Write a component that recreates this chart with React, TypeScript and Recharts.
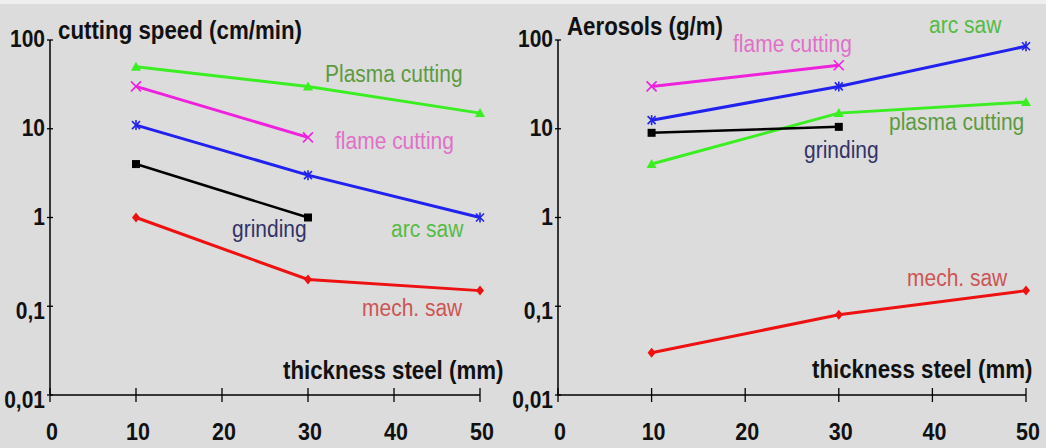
import React from 'react';
import { LineChart, Line, XAxis, YAxis } from 'recharts';

// Steel plate thickness (mm) at which each process was measured
const thickness = [10, 30, 50];

// Cutting speed (cm/min) per process
const speedPlasma = [50, 30, 15];
const speedFlame = [30, 8, null];
const speedArcSaw = [11, 3, 1];
const speedGrinding = [4, 1, null];
const speedMechSaw = [1, 0.2, 0.15];

// Aerosol emission (g/m) per process
const aeroFlame = [30, 52, null];
const aeroArcSaw = [12.5, 30, 85];
const aeroPlasma = [4, 15, 20];
const aeroGrinding = [9, 10.5, null];
const aeroMechSaw = [0.03, 0.08, 0.15];

const xTicks = [0, 10, 20, 30, 40, 50];
const yTicks = [0.01, 0.1, 1, 10, 100];
const yTickLabels = ['0,01', '0,1', '1', '10', '100'];

const C_PLASMA = '#3aee22';
const C_FLAME = '#ee22dd';
const C_ARC = '#2222ee';
const C_GRIND = '#000000';
const C_MECH = '#ee1111';

const FONT = '"Liberation Sans", Arial, sans-serif';
// glyphs in this figure are drawn slightly taller than wide
const STRETCH = 1.15;

const buildRows = (series: Record<string, (number | null)[]>) =>
  thickness.map((t, i) => {
    const row: Record<string, number | null> = { t };
    Object.keys(series).forEach((k) => {
      row[k] = series[k][i];
    });
    return row;
  });

const speedRows = buildRows({
  plasma: speedPlasma,
  flame: speedFlame,
  arc: speedArcSaw,
  grinding: speedGrinding,
  mech: speedMechSaw,
});

const aeroRows = buildRows({
  plasma: aeroPlasma,
  flame: aeroFlame,
  arc: aeroArcSaw,
  grinding: aeroGrinding,
  mech: aeroMechSaw,
});

type MarkKind = 'triangle' | 'cross' | 'star' | 'square' | 'diamond';

const makeDot = (kind: MarkKind, color: string) => (p: any) => {
  const { cx, cy, index } = p;
  const key = `${kind}-${index}`;
  if (cx == null || cy == null || p.value == null || Number.isNaN(cy)) return <g key={key} />;
  switch (kind) {
    case 'triangle':
      return (
        <polygon key={key} points={`${cx},${cy - 5} ${cx - 5},${cy + 4} ${cx + 5},${cy + 4}`} fill={color} />
      );
    case 'cross':
      return (
        <g key={key} stroke={color} strokeWidth={1.6}>
          <line x1={cx - 5} y1={cy - 5} x2={cx + 5} y2={cy + 5} />
          <line x1={cx - 5} y1={cy + 5} x2={cx + 5} y2={cy - 5} />
        </g>
      );
    case 'star':
      return (
        <g key={key} stroke={color} strokeWidth={1.6}>
          <line x1={cx - 4} y1={cy - 4} x2={cx + 4} y2={cy + 4} />
          <line x1={cx - 4} y1={cy + 4} x2={cx + 4} y2={cy - 4} />
          <line x1={cx} y1={cy - 5} x2={cx} y2={cy + 5} />
        </g>
      );
    case 'square':
      return <rect key={key} x={cx - 4} y={cy - 4} width={8} height={8} fill={color} />;
    default:
      return (
        <polygon key={key} points={`${cx},${cy - 5} ${cx + 4},${cy} ${cx},${cy + 5} ${cx - 4},${cy}`} fill={color} />
      );
  }
};

const Y_TICK_SIZE = 3;
const Y_TICK_MARGIN = 2;
const X_TICK_SIZE = 7;
const X_TICK_MARGIN = 40;

// Text stretched vertically about its baseline
const Txt = ({ x, y, size, bold, color, anchor, children }: any) => (
  <text
    transform={`translate(${x},${y}) scale(1,${STRETCH})`}
    x={0}
    y={0}
    textAnchor={anchor || 'start'}
    fontFamily={FONT}
    fontSize={size}
    fontWeight={bold ? 'bold' : 'normal'}
    fill={color}
  >
    {children}
  </text>
);

const renderYTick = (p: any) => {
  const { x, y, payload } = p;
  const axisX = x + Y_TICK_SIZE + Y_TICK_MARGIN;
  const idx = yTicks.indexOf(payload.value);
  const label = idx >= 0 ? yTickLabels[idx] : String(payload.value);
  const drop = label.includes(',') ? 13 : 7;
  return (
    <g key={`yt-${payload.value}`}>
      <path d={`M${axisX - 3},${y}H${axisX + 3}`} stroke="#000" strokeWidth={1.3} fill="none" />
      <Txt x={x} y={y + drop} size={21} bold color="#111" anchor="end">
        {label}
      </Txt>
    </g>
  );
};

const renderXTick = (p: any) => {
  const { x, y, payload } = p;
  const axisY = y - X_TICK_SIZE - X_TICK_MARGIN;
  return (
    <g key={`xt-${payload.value}`}>
      <path d={`M${x},${axisY - 7}V${axisY + 7}`} stroke="#000" strokeWidth={1.3} fill="none" />
      <Txt x={x + 2} y={y - 2} size={21.5} bold color="#111" anchor="middle">
        {payload.value}
      </Txt>
    </g>
  );
};

const Note = ({ x, y, color, bold, children }: any) => (
  <Txt x={x} y={y} size={bold ? 22.3 : 21} bold={bold} color={color}>
    {children}
  </Txt>
);

const seriesLines = () => [
  <Line
    key="plasma"
    dataKey="plasma"
    stroke={C_PLASMA}
    strokeWidth={3}
    dot={makeDot('triangle', C_PLASMA)}
    isAnimationActive={false}
  />,
  <Line
    key="flame"
    dataKey="flame"
    stroke={C_FLAME}
    strokeWidth={3}
    dot={makeDot('cross', C_FLAME)}
    isAnimationActive={false}
  />,
  <Line
    key="arc"
    dataKey="arc"
    stroke={C_ARC}
    strokeWidth={3}
    dot={makeDot('star', C_ARC)}
    isAnimationActive={false}
  />,
  <Line
    key="grinding"
    dataKey="grinding"
    stroke={C_GRIND}
    strokeWidth={2.5}
    dot={makeDot('square', C_GRIND)}
    isAnimationActive={false}
  />,
  <Line
    key="mech"
    dataKey="mech"
    stroke={C_MECH}
    strokeWidth={3}
    dot={makeDot('diamond', C_MECH)}
    isAnimationActive={false}
  />,
];

const axes = (yWidth: number) => [
  <XAxis
    key="x"
    dataKey="t"
    type="number"
    domain={[0, 50]}
    ticks={xTicks}
    height={53}
    tickSize={X_TICK_SIZE}
    tickMargin={X_TICK_MARGIN}
    tickLine={false}
    axisLine={{ stroke: '#000', strokeWidth: 1.5 }}
    tick={renderXTick}
    interval={0}
  />,
  <YAxis
    key="y"
    type="number"
    scale="log"
    domain={[0.01, 100]}
    allowDataOverflow
    ticks={yTicks}
    width={yWidth}
    tickSize={Y_TICK_SIZE}
    tickMargin={Y_TICK_MARGIN}
    tickLine={false}
    axisLine={{ stroke: '#000', strokeWidth: 1.5 }}
    tick={renderYTick}
    interval={0}
  />,
];

export default function App() {
  return (
    <div
      style={{
        position: 'absolute',
        left: 0,
        top: 0,
        width: 1046,
        height: 448,
        background: '#dcdcdc',
        overflow: 'hidden',
      }}
    >
      <div style={{ position: 'absolute', left: 0, top: 0, width: 1046, height: 4, background: '#efefef' }} />
      <div style={{ position: 'absolute', left: 0, top: 0 }}>
        <LineChart width={520} height={448} data={speedRows} margin={{ top: 40, right: 40, bottom: 0, left: 0 }}>
          {axes(50)}
          {seriesLines()}
          <Note x={58} y={39} color="#111" bold>
            cutting speed (cm/min)
          </Note>
          <Note x={325} y={82} color="#5c9a40">
            Plasma cutting
          </Note>
          <Note x={335} y={149} color="#e070c8">
            flame cutting
          </Note>
          <Note x={232} y={237} color="#333366">
            grinding
          </Note>
          <Note x={391} y={237} color="#55bb44">
            arc saw
          </Note>
          <Note x={362} y={316} color="#cc5555">
            mech. saw
          </Note>
          <Note x={283} y={379} color="#111" bold>
            thickness steel (mm)
          </Note>
        </LineChart>
      </div>
      <div style={{ position: 'absolute', left: 500, top: 0 }}>
        <LineChart width={546} height={448} data={aeroRows} margin={{ top: 40, right: 20, bottom: 0, left: 0 }}>
          {axes(58)}
          {seriesLines()}
          <Note x={67} y={35} color="#111" bold>
            Aerosols (g/m)
          </Note>
          <Note x={233} y={52} color="#e070c8">
            flame cutting
          </Note>
          <Note x={429} y={33} color="#55bb44">
            arc saw
          </Note>
          <Note x={389} y={130} color="#5c9a40">
            plasma cutting
          </Note>
          <Note x={304} y={158} color="#333366">
            grinding
          </Note>
          <Note x={407} y={286} color="#cc5555">
            mech. saw
          </Note>
          <Note x={312} y={378} color="#111" bold>
            thickness steel (mm)
          </Note>
        </LineChart>
      </div>
    </div>
  );
}
